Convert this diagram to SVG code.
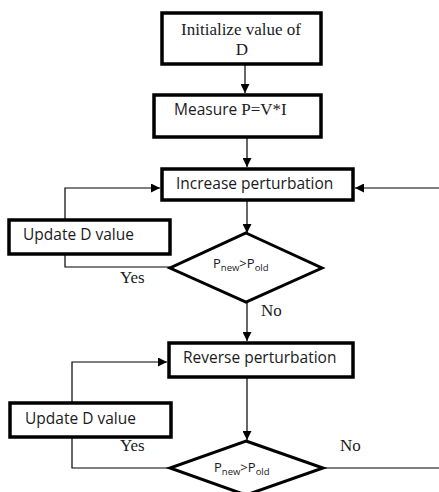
<svg xmlns="http://www.w3.org/2000/svg" width="439" height="492" viewBox="0 0 439 492">
<style>
.box{fill:#fff;stroke:#000;stroke-width:3.5}
.dia{fill:#fff;stroke:#000;stroke-width:3}
.ln{fill:none;stroke:#000;stroke-width:1.2}
.serif{font-family:"Liberation Serif",serif;font-size:17px;fill:#1a1a22}
.sans{font-family:"Open Sans","Liberation Sans",sans-serif;font-size:15.5px;fill:#1a1a22}
.small{font-family:"Open Sans","Liberation Sans",sans-serif;font-size:13px;fill:#1a1a22}
</style>
<defs>
<marker id="ah" viewBox="0 0 10 10" refX="10" refY="5" markerWidth="9" markerHeight="9" markerUnits="userSpaceOnUse" orient="auto">
<path d="M0,0 L10,5 L0,10 z" fill="#000"/>
</marker>
</defs>
<rect width="439" height="492" fill="#fff"/>
<g id="connectors">
<path class="ln" d="M245,65 V93" marker-end="url(#ah)"/>
<path class="ln" d="M247,138 V167" marker-end="url(#ah)"/>
<path class="ln" d="M65,219 V188 H160" marker-end="url(#ah)"/>
<path class="ln" d="M439,188 H355" marker-end="url(#ah)"/>
<path class="ln" d="M247,201 V233" marker-end="url(#ah)"/>
<path class="ln" d="M65,255 V267 H170"/>
<path class="ln" d="M247,302 V341" marker-end="url(#ah)"/>
<path class="ln" d="M72,402 V362 H167" marker-end="url(#ah)"/>
<path class="ln" d="M247,378 V440" marker-end="url(#ah)"/>
<path class="ln" d="M72,438 V468 H170"/>
<path class="ln" d="M323,468 H439"/>
<text class="serif" x="120" y="283">Yes</text>
<text class="serif" x="261" y="316">No</text>
<text class="serif" x="120" y="451">Yes</text>
<text class="serif" x="340" y="451">No</text>
</g>
<g id="init">
<rect class="box" x="162" y="13" width="159" height="51"/>
<text class="serif" x="241" y="35" text-anchor="middle">Initialize value of</text>
<text class="serif" x="242" y="55" text-anchor="middle">D</text>
</g>
<g id="measure">
<rect class="box" x="154" y="95" width="167" height="42"/>
<text class="sans" x="174" y="115">Measure <tspan font-family="Liberation Serif, serif" font-size="17">P=V*I</tspan></text>
</g>
<g id="increase">
<rect class="box" x="162" y="169" width="191" height="31"/>
<text class="sans" x="176" y="189">Increase  perturbation</text>
</g>
<g id="update1">
<rect class="box" x="9" y="220" width="161" height="34"/>
<text class="sans" x="23" y="240">Update D value</text>
</g>
<g id="decision1">
<polygon class="dia" points="246,233 322,268 246,302 170,268"/>
<text class="small" x="213" y="268">P<tspan font-size="9.5" dy="3">new</tspan><tspan dy="-3">&gt;P</tspan><tspan font-size="9.5" dy="3">old</tspan></text>
</g>
<g id="reverse">
<rect class="box" x="169" y="343" width="184" height="34"/>
<text class="sans" x="183" y="363">Reverse perturbation</text>
</g>
<g id="update2">
<rect class="box" x="10" y="403" width="161" height="34"/>
<text class="sans" x="25" y="424">Update D value</text>
</g>
<g id="decision2">
<polygon class="dia" points="246,441 323,468 246,495 170,468"/>
<text class="small" x="214" y="472">P<tspan font-size="9.5" dy="3">new</tspan><tspan dy="-3">&gt;P</tspan><tspan font-size="9.5" dy="3">old</tspan></text>
</g>
</svg>
